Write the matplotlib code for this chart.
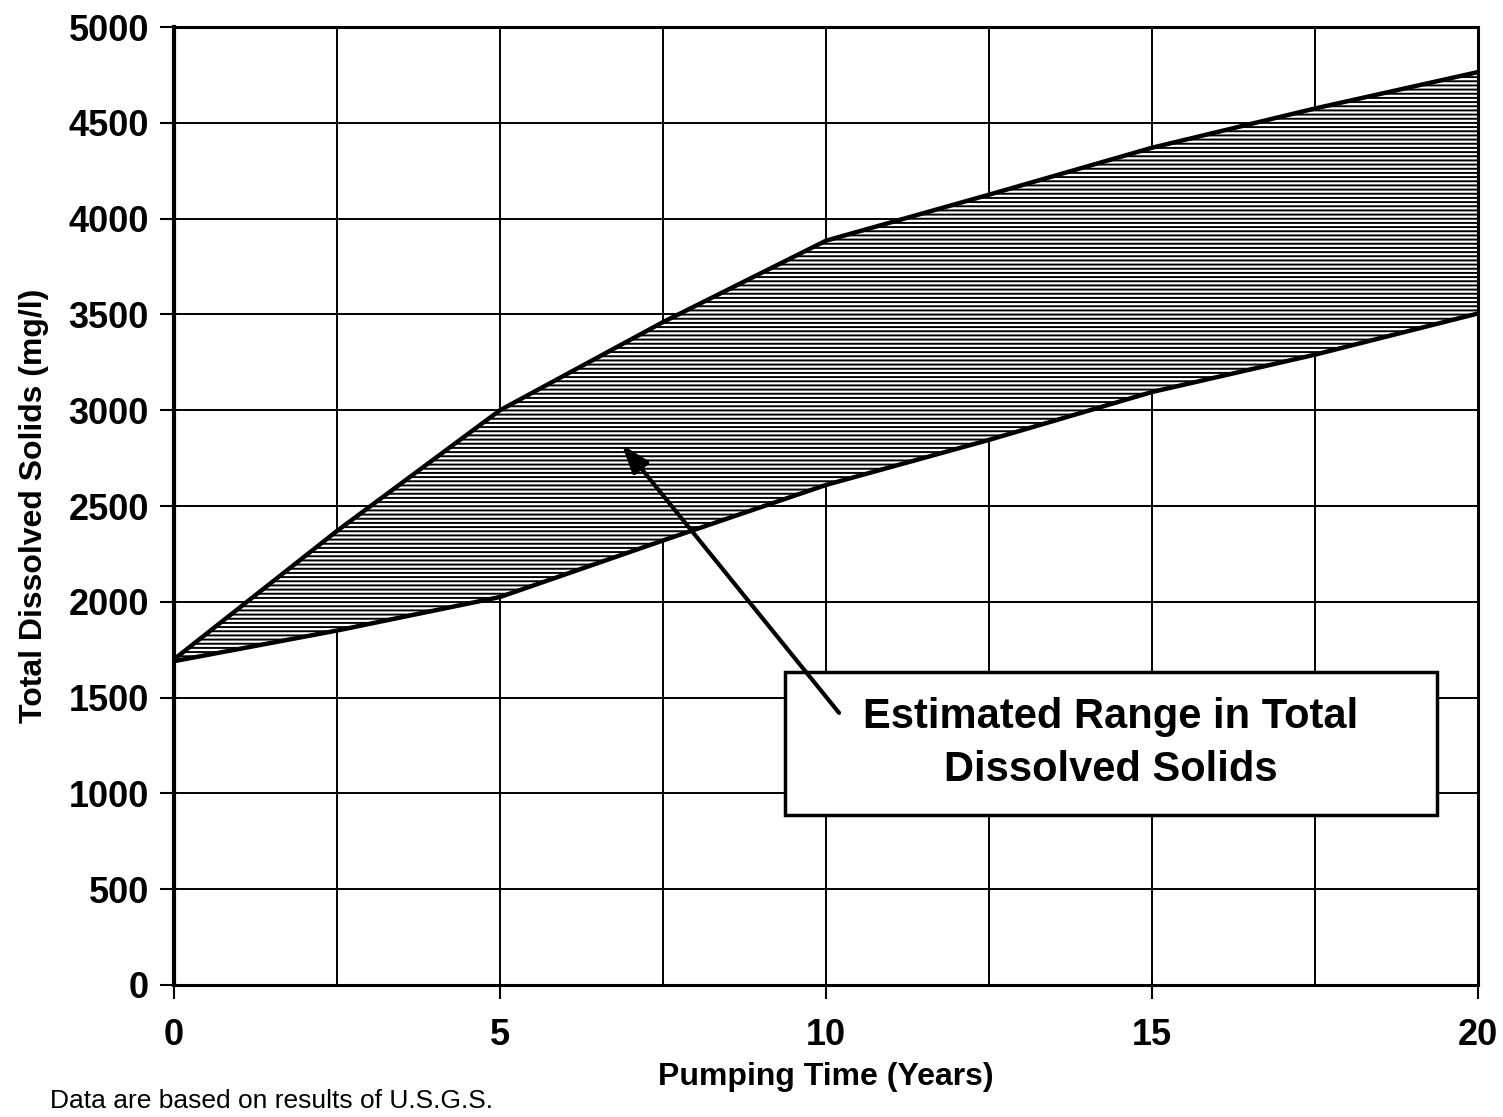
import matplotlib
matplotlib.use('Agg')
import matplotlib.pyplot as plt
from matplotlib.patches import Rectangle
from matplotlib.ticker import MultipleLocator

plt.rcParams['font.family'] = ['Liberation Sans', 'DejaVu Sans']
plt.rcParams['font.weight'] = 'bold'
plt.rcParams['hatch.linewidth'] = 1.4
plt.rcParams['hatch.color'] = 'black'

# Tempo de bombeamento (anos) e faixa estimada de TDS (mg/l)
anos = [0, 2.5, 5, 7.5, 10, 12.5, 15, 17.5, 20]
tds_max = [1700, 2370, 3000, 3460, 3885, 4125, 4370, 4575, 4765]
tds_min = [1690, 1850, 2025, 2320, 2610, 2845, 3095, 3290, 3505]

x_ticks = [0, 5, 10, 15, 20]
y_ticks = [0, 500, 1000, 1500, 2000, 2500, 3000, 3500, 4000, 4500, 5000]

fig = plt.figure(figsize=(15.03, 11.17), dpi=100)
ax = fig.add_axes([0.1158, 0.1182, 0.8676, 0.8576])

# Faixa hachurada entre as curvas
ax.fill_between(anos, tds_min, tds_max, facecolor='white', edgecolor='black',
                hatch='----', linewidth=0, zorder=2)
ax.plot(anos, tds_max, color='black', linewidth=3.2, zorder=3)
ax.plot(anos, tds_min, color='black', linewidth=3.2, zorder=3)

ax.set_xlim(0, 20)
ax.set_ylim(0, 5000)
ax.set_xticks(x_ticks)
ax.set_yticks(y_ticks)
ax.xaxis.set_minor_locator(MultipleLocator(2.5))
ax.grid(True, which='both', color='black', linewidth=1.4, zorder=1)
ax.set_axisbelow(True)
ax.tick_params(axis='both', which='major', direction='out', length=10, width=1.5,
               labelsize=26, pad=8)
ax.tick_params(axis='x', which='major', pad=14)
ax.tick_params(axis='x', which='minor', length=0)
for lbl in ax.get_xticklabels() + ax.get_yticklabels():
    lbl.set_fontweight('bold')
for lado in ['left', 'top', 'right', 'bottom']:
    ax.spines[lado].set_linewidth(2.2)
ax.spines['left'].set_linewidth(3)

ax.set_xlabel('Pumping Time (Years)', fontsize=23, fontweight='bold', labelpad=6)
ax.set_ylabel('Total Dissolved Solids (mg/l)', fontsize=23, fontweight='bold', labelpad=14)

# Caixa com seta apontando para a faixa
ax.add_patch(Rectangle((0.4686, 0.1775), 0.5, 0.1492, transform=ax.transAxes,
                       facecolor='white', edgecolor='black', linewidth=2.5, zorder=5))
ax.text(0.7186, 0.252, 'Estimated Range in Total\nDissolved Solids', transform=ax.transAxes,
        fontsize=30, fontweight='bold', ha='center', va='center', linespacing=1.4, zorder=6)
ax.annotate('', xy=(6.87, 2820), xytext=(10.2, 1420),
            arrowprops=dict(arrowstyle='-|>,head_length=1.7,head_width=0.6', color='black',
                            linewidth=3, shrinkA=0, shrinkB=0), zorder=7)

# Nota de rodape
fig.text(0.033, 0.004, 'Data are based on results of U.S.G.S.', fontsize=19,
         fontweight='normal', ha='left', va='bottom')

fig.savefig('out.png', dpi=100)
